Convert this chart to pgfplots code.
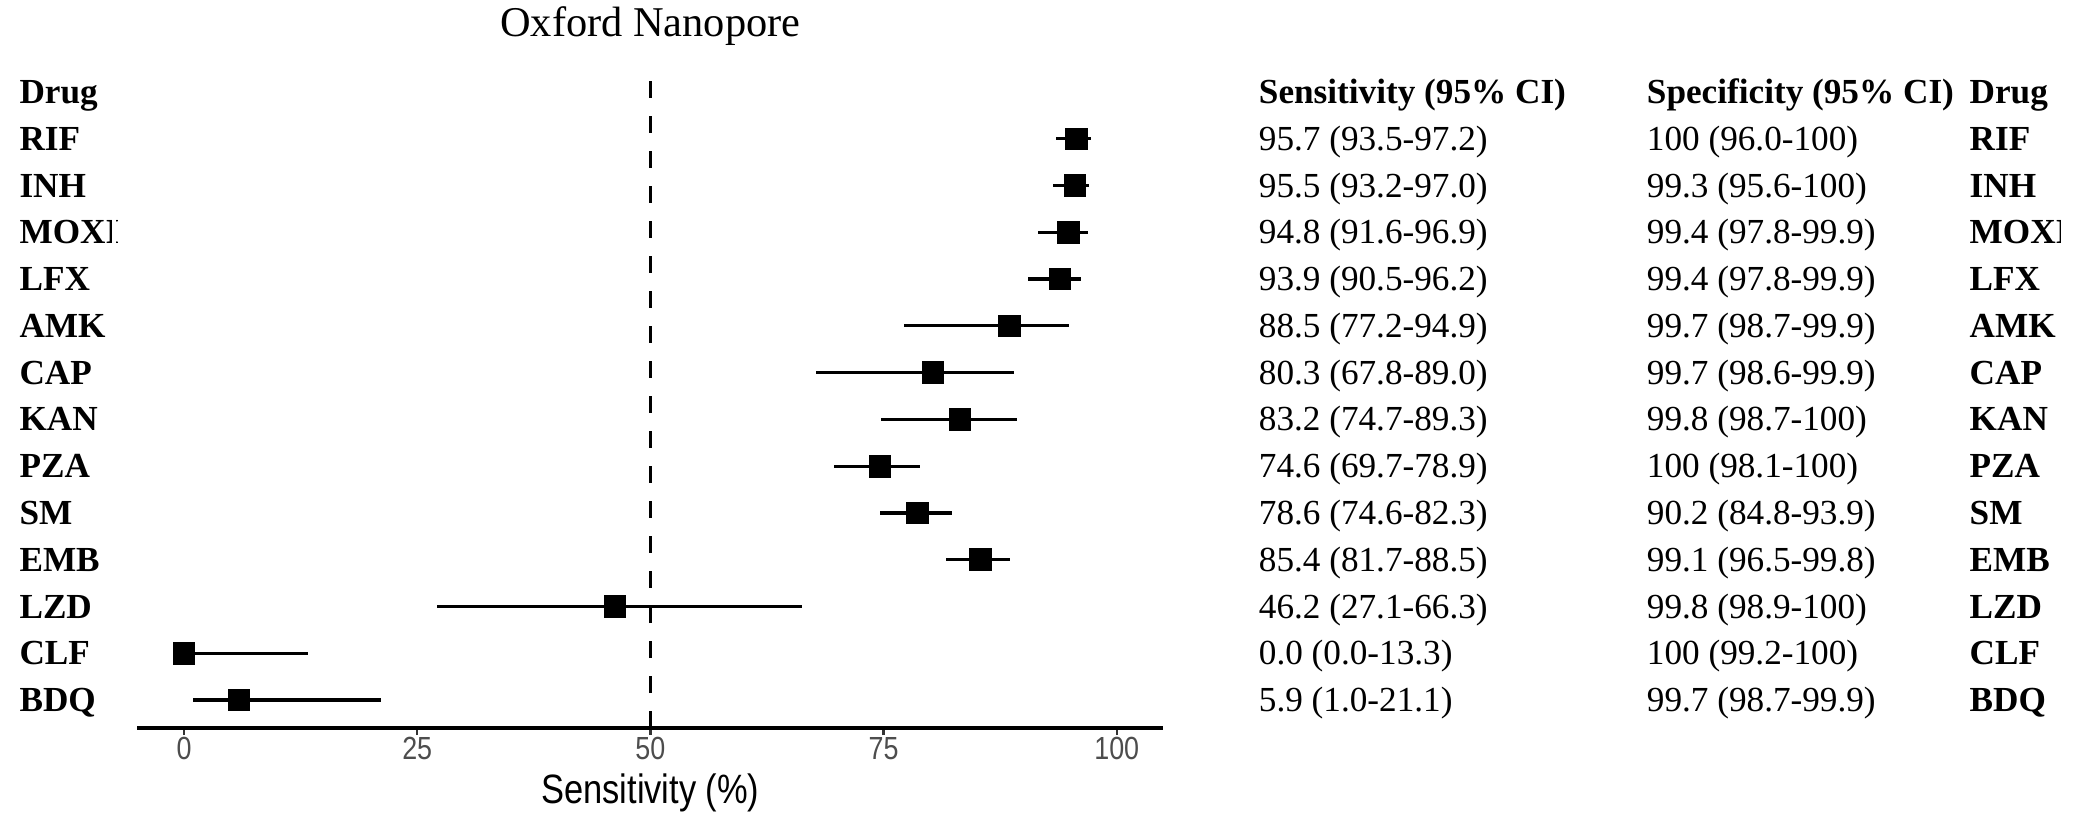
\documentclass[border=0pt]{standalone}
\usepackage{pgfplots}
\pgfplotsset{compat=1.18}
\usepackage{pgfplotstable}
\usepackage{fontspec}
\setmainfont{Liberation Serif}
\newfontfamily\narrowsans[FakeStretch=0.84]{Liberation Sans}
\definecolor{tickgray}{HTML}{4D4D4D}
\definecolor{tickdark}{HTML}{333333}

\pgfplotstableread[col sep=comma]{
row,drug,est,lo,hi,sens,spec
13,RIF,95.7,93.5,97.2,95.7 (93.5-97.2),100 (96.0-100)
12,INH,95.5,93.2,97.0,95.5 (93.2-97.0),99.3 (95.6-100)
11,MOXI,94.8,91.6,96.9,94.8 (91.6-96.9),99.4 (97.8-99.9)
10,LFX,93.9,90.5,96.2,93.9 (90.5-96.2),99.4 (97.8-99.9)
9,AMK,88.5,77.2,94.9,88.5 (77.2-94.9),99.7 (98.7-99.9)
8,CAP,80.3,67.8,89.0,80.3 (67.8-89.0),99.7 (98.6-99.9)
7,KAN,83.2,74.7,89.3,83.2 (74.7-89.3),99.8 (98.7-100)
6,PZA,74.6,69.7,78.9,74.6 (69.7-78.9),100 (98.1-100)
5,SM,78.6,74.6,82.3,78.6 (74.6-82.3),90.2 (84.8-93.9)
4,EMB,85.4,81.7,88.5,85.4 (81.7-88.5),99.1 (96.5-99.8)
3,LZD,46.2,27.1,66.3,46.2 (27.1-66.3),99.8 (98.9-100)
2,CLF,0.0,0.0,13.3,0.0 (0.0-13.3),100 (99.2-100)
1,BDQ,5.9,1.0,21.1,5.9 (1.0-21.1),99.7 (98.7-99.9)
}\drugdata

\pgfplotstableread[col sep=semicolon]{
x;y;lab
-17.68;14;Drug
115.2;14;Sensitivity (95\% CI)
156.8;14;Specificity (95\% CI)
191.4;14;Drug
}\headdata

\pgfplotsset{
  textcol/.style={only marks, mark=none, nodes near coords, point meta=explicit symbolic,
    every node near coord/.append style={anchor=base west, inner sep=0pt, yshift=-5.8pt, text=black, font=#1}},
}

\begin{document}
\begin{tikzpicture}
\path[use as bounding box] (0,0) rectangle (1044pt,407pt);
\clip (0,0) rectangle (55.5pt,407pt) (58pt,0) rectangle (1030pt,407pt);
\begin{axis}[
  at={(68.7pt,43pt)}, anchor=south west,
  width=513pt, height=332pt, scale only axis,
  xmin=-5, xmax=105, ymin=0.4, ymax=14.6,
  clip=false,
  axis x line*=bottom, axis y line=none,
  x axis line style={-, line width=1.6pt, black},
  xtick={0,25,50,75,100},
  ytick=\empty,
  tick align=outside,
  major tick length=3.5pt,
  x tick style={line width=1.2pt, color=tickdark},
  /pgf/number format/assume math mode=true,
  xticklabel style={anchor=base, yshift=-12pt, inner sep=0pt, text=tickgray,
    font=\narrowsans\fontsize{16}{18}\selectfont},
  xlabel={Sensitivity (\%)},
  xlabel style={at={(rel axis cs:0.5,0)}, anchor=base, yshift=-37.5pt, inner sep=0pt,
    font=\narrowsans\fontsize{20.5}{24}\selectfont},
  title={Oxford Nanopore},
  title style={at={(rel axis cs:0.5,1)}, anchor=base, yshift=7.5pt, inner sep=0pt,
    font=\fontsize{21.2}{24}\selectfont},
]
% reference line
\addplot[black, line width=1.3pt, dash pattern=on 8.5pt off 9pt] coordinates {(50,0.4) (50,14.6)};
% estimates with confidence intervals
\addplot[only marks, mark=square*, mark size=5.4pt, black, line width=0.4pt,
  error bars/.cd, x dir=both, x explicit, error mark=none,
  error bar style={line width=1.6pt, black}]
  table[x=est, y=row,
    x error plus expr=\thisrow{hi}-\thisrow{est},
    x error minus expr=\thisrow{est}-\thisrow{lo}] {\drugdata};
% text columns
\addplot[textcol={\fontsize{17.6}{20}\selectfont\bfseries}] table[x expr=-17.68, y=row, meta=drug] {\drugdata};
\addplot[textcol={\fontsize{17.6}{20}\selectfont}] table[x expr=115.2, y=row, meta=sens] {\drugdata};
\addplot[textcol={\fontsize{17.6}{20}\selectfont}] table[x expr=156.8, y=row, meta=spec] {\drugdata};
\addplot[textcol={\fontsize{17.6}{20}\selectfont\bfseries}] table[x expr=191.4, y=row, meta=drug] {\drugdata};
\addplot[textcol={\fontsize{17.6}{20}\selectfont\bfseries}] table[x=x, y=y, meta=lab] {\headdata};
\end{axis}
\end{tikzpicture}
\end{document}
